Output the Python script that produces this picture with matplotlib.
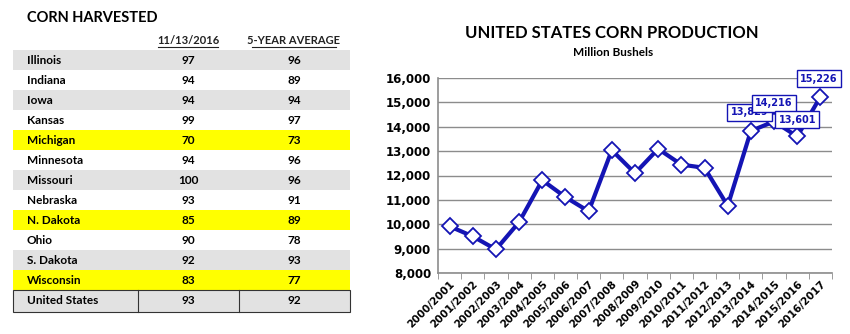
import matplotlib.pyplot as plt
import matplotlib.patches as patches
import matplotlib.ticker as mticker

# table data
states = ['Illinois', 'Indiana', 'Iowa', 'Kansas', 'Michigan', 'Minnesota', 'Missouri',
          'Nebraska', 'N. Dakota', 'Ohio', 'S. Dakota', 'Wisconsin', 'United States']
harvested_2016 = [97, 94, 94, 99, 70, 94, 100, 93, 85, 90, 92, 83, 93]
five_year_avg = [96, 89, 94, 97, 73, 96, 96, 91, 89, 78, 93, 77, 92]
highlighted = ['Michigan', 'N. Dakota', 'Wisconsin']
shaded = ['Illinois', 'Iowa', 'Missouri', 'S. Dakota', 'United States']

# production data (million bushels)
years = ['2000/2001', '2001/2002', '2002/2003', '2003/2004', '2004/2005', '2005/2006',
         '2006/2007', '2007/2008', '2008/2009', '2009/2010', '2010/2011', '2011/2012',
         '2012/2013', '2013/2014', '2014/2015', '2015/2016', '2016/2017']
production = [9915, 9503, 8967, 10089, 11807, 11112, 10531, 13038, 12092, 13092,
              12447, 12314, 10755, 13829, 14216, 13601, 15226]
labeled = {13: (-1, 13.5), 14: (0, 13), 15: (0, 12), 16: (-1, 13)}

W, H = 850, 334
fig = plt.figure(figsize=(W / 100, H / 100), dpi=100)
txt_font = ['Lato', 'DejaVu Sans']

# ---- left table, drawn in pixel coordinates
tab = fig.add_axes([0, 0, 1, 1])
tab.set_xlim(0, W)
tab.set_ylim(H, 0)
tab.axis('off')

tab.text(27, 18, 'CORN HARVESTED', fontsize=10.5, fontweight='bold', family=txt_font,
         va='center', ha='left')
for cx, head in [(188, '11/13/2016'), (294, '5-YEAR AVERAGE')]:
    tab.text(cx, 41, head, fontsize=8, fontweight='bold', family=txt_font,
             va='center', ha='center', color='#222222')
    hw = len(head) * 3.0
    tab.plot([cx - hw, cx + hw], [47, 47], color='#222222', lw=0.8)

row_top, row_h = 49.5, 20
for i, st in enumerate(states):
    y0 = row_top + i * row_h
    h = row_h + (2 if st == 'United States' else 0)
    if st in highlighted:
        tab.add_patch(patches.Rectangle((13, y0), 337, h, color='#FFFF00', lw=0))
    elif st in shaded:
        tab.add_patch(patches.Rectangle((13, y0), 337, h, color='#E2E2E2', lw=0))
    if st == 'United States':
        tab.add_patch(patches.Rectangle((13, y0), 337, h, fill=False, ec='#333333', lw=0.8))
        for vx in (138, 239):
            tab.plot([vx, vx], [y0, y0 + h], color='#333333', lw=0.8)
    yc = y0 + h / 2 + 0.5
    tab.text(27, yc, st, fontsize=8.5, fontweight='bold', family=txt_font, va='center')
    tab.text(188, yc, str(harvested_2016[i]), fontsize=8.5, fontweight='bold',
             family=txt_font, va='center', ha='center')
    tab.text(294, yc, str(five_year_avg[i]), fontsize=8.5, fontweight='bold',
             family=txt_font, va='center', ha='center')

fig.text(612 / W, 1 - 33 / H, 'UNITED STATES CORN PRODUCTION', fontsize=12,
         fontweight='bold', family=txt_font, ha='center', va='center')
fig.text(613 / W, 1 - 53 / H, 'Million Bushels', fontsize=8.5, fontweight='bold',
         family=txt_font, ha='center', va='center')

# ---- right line chart
ax = fig.add_axes([438 / W, (H - 273) / H, (832 - 438) / W, (273 - 78) / H])
blue = '#1414B4'
x = list(range(len(years)))
ax.plot(x, production, color=blue, lw=3, marker='D', markersize=8,
        markerfacecolor='white', markeredgecolor=blue, markeredgewidth=1.3, zorder=3)
ax.set_xlim(-0.5, len(years) - 0.5)
ax.set_ylim(8000, 16000)
ax.yaxis.set_major_locator(mticker.MultipleLocator(1000))
ax.yaxis.set_major_formatter(mticker.FuncFormatter(lambda v, p: f'{int(v):,}'))
ax.grid(axis='y', color='#8C8C8C', lw=1)
ax.set_axisbelow(True)
for s in ['top', 'right']:
    ax.spines[s].set_visible(False)
for s in ['left', 'bottom']:
    ax.spines[s].set_color('#8C8C8C')
    ax.spines[s].set_linewidth(1.2)
ax.set_xticks(x)
ax.set_xticklabels(years, rotation=45, ha='right', rotation_mode='anchor',
                   fontsize=7.5, fontweight='bold')
ax.tick_params(axis='x', length=0, pad=4)
ax.set_xticks([v - 0.5 for v in range(len(years) + 1)], minor=True)
ax.tick_params(axis='x', which='minor', length=4, color='#8C8C8C')
ax.tick_params(axis='y', length=0, labelsize=8.5, pad=5)
for lb in ax.get_yticklabels():
    lb.set_fontweight('bold')

for idx, (dx, dy) in labeled.items():
    ax.annotate(f'{production[idx]:,}', (idx, production[idx]), xytext=(dx, dy),
                textcoords='offset points', ha='center', va='center', fontsize=7,
                fontweight='bold', color=blue, zorder=4,
                bbox=dict(boxstyle='square,pad=0.35', fc='white', ec=blue, lw=1))

fig.savefig('out.png', dpi=100)
